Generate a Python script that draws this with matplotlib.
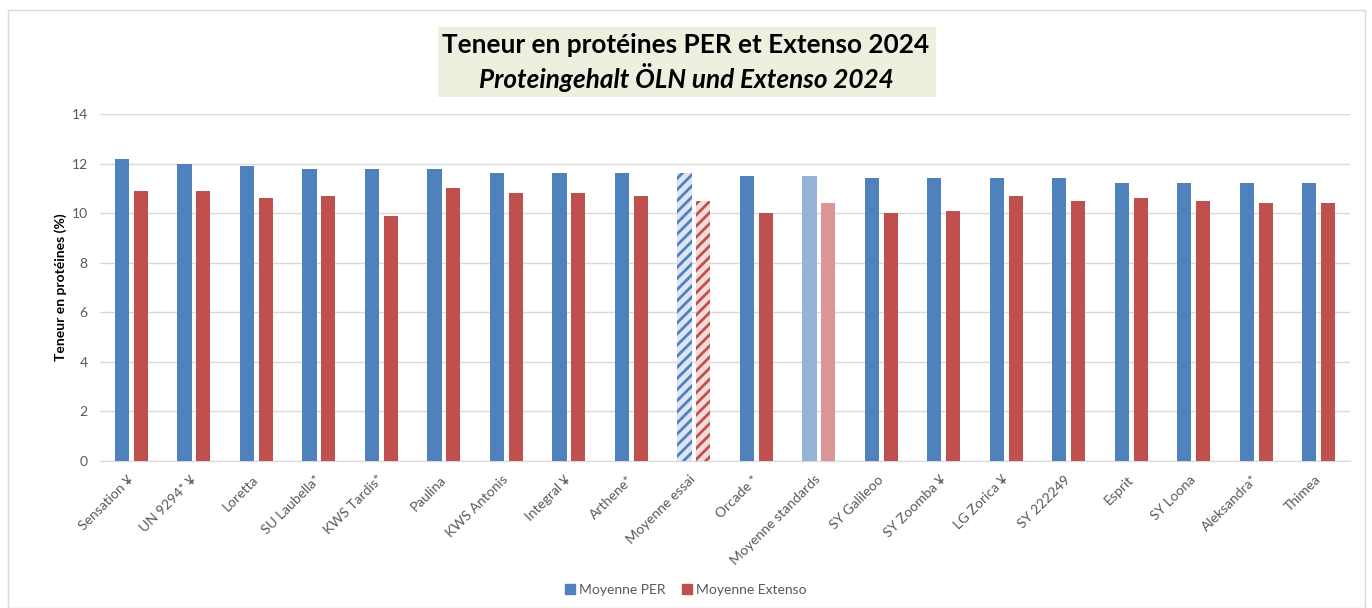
import matplotlib
matplotlib.use("Agg")
import matplotlib.pyplot as plt
import numpy as np
from matplotlib.patches import Rectangle

varieties = ["Sensation ¥", "UN 9294* ¥", "Loretta", "SU Laubella*", "KWS Tardis*",
             "Paulina", "KWS Antonis", "Integral ¥", "Arthene*", "Moyenne essai",
             "Orcade *", "Moyenne standards", "SY Galileoo", "SY Zoomba ¥", "LG Zorica ¥",
             "SY 222249", "Esprit", "SY Loona", "Aleksandra*", "Thimea"]
per = [12.2, 12.0, 11.9, 11.8, 11.8, 11.8, 11.6, 11.6, 11.6, 11.6,
       11.5, 11.5, 11.4, 11.4, 11.4, 11.4, 11.2, 11.2, 11.2, 11.2]
extenso = [10.9, 10.9, 10.6, 10.7, 9.9, 11.0, 10.8, 10.8, 10.7, 10.5,
           10.0, 10.4, 10.0, 10.1, 10.7, 10.5, 10.6, 10.5, 10.4, 10.4]

plt.rcParams["font.family"] = ["Lato", "DejaVu Sans"]
plt.rcParams["hatch.linewidth"] = 2.0

BLUE, RED = "#4F81BD", "#C0504D"
blue_c = [BLUE] * len(varieties)
red_c = [RED] * len(varieties)
i_std = varieties.index("Moyenne standards")
i_ess = varieties.index("Moyenne essai")
blue_c[i_std] = "#95B3D7"
red_c[i_std] = "#D99694"
blue_c[i_ess] = "#DCE6F2"
red_c[i_ess] = "#F2DCDB"

fig = plt.figure(figsize=(13.72, 6.08), dpi=100)
ax = fig.add_axes([0.073, 0.242, 0.911, 0.5705])

x = np.arange(len(varieties))
w = 0.225
b1 = ax.bar(x - 0.15, per, w, color=blue_c, label="Moyenne PER", zorder=3)
b2 = ax.bar(x + 0.15, extenso, w, color=red_c, label="Moyenne Extenso", zorder=3)
b1[i_ess].set_hatch("///")
b1[i_ess].set_edgecolor(BLUE)
b1[i_ess].set_linewidth(0)
b2[i_ess].set_hatch("///")
b2[i_ess].set_edgecolor(RED)
b2[i_ess].set_linewidth(0)

ax.set_xlim(-0.5, len(varieties) - 0.5)
ax.set_ylim(0, 14)
ax.set_yticks(range(0, 15, 2))
ax.grid(axis="y", color="#D9D9D9", lw=1, zorder=0)
for s in ["top", "right", "left"]:
    ax.spines[s].set_visible(False)
ax.spines["bottom"].set_color("#D9D9D9")
ax.tick_params(axis="both", length=0, colors="#595959", labelsize=10)
ax.tick_params(axis="y", pad=9)
ax.tick_params(axis="x", pad=12)
ax.set_xticks(x)
ax.set_xticklabels(varieties, rotation=45, ha="right", va="center",
                   rotation_mode="anchor")
ax.set_ylabel("Teneur en protéines (%)", fontsize=10, fontweight="bold", labelpad=3)

# title box
fig.patches.append(Rectangle((438 / 1372, 1 - 97 / 608), 498 / 1372, 70 / 608,
                             transform=fig.transFigure, facecolor="#EBF1DE",
                             edgecolor="none", zorder=0))
fig.text(0.5, 1 - 45 / 608, "Teneur en protéines PER et Extenso 2024", ha="center",
         va="center", fontsize=18.8, fontweight="bold")
fig.text(0.5, 1 - 77 / 608, "Proteingehalt ÖLN und Extenso 2024", ha="center",
         va="center", fontsize=18.8, fontweight="bold", style="italic")

# outer border
fig.patches.append(Rectangle((8 / 1372, 0), 1357 / 1372, 1 - 10 / 608,
                             transform=fig.transFigure, facecolor="none",
                             edgecolor="#D9D9D9", lw=1))

h1 = Rectangle((0, 0), 1, 1, color=BLUE)
h2 = Rectangle((0, 0), 1, 1, color=RED)
fig.legend([h1, h2], ["Moyenne PER", "Moyenne Extenso"], loc="center",
           bbox_to_anchor=(0.5, 1 - 590 / 608), ncol=2, frameon=False,
           fontsize=10, labelcolor="#595959", handlelength=0.7, handleheight=0.7,
           handletextpad=0.3, columnspacing=1.2)

fig.savefig("out.png", dpi=100)
